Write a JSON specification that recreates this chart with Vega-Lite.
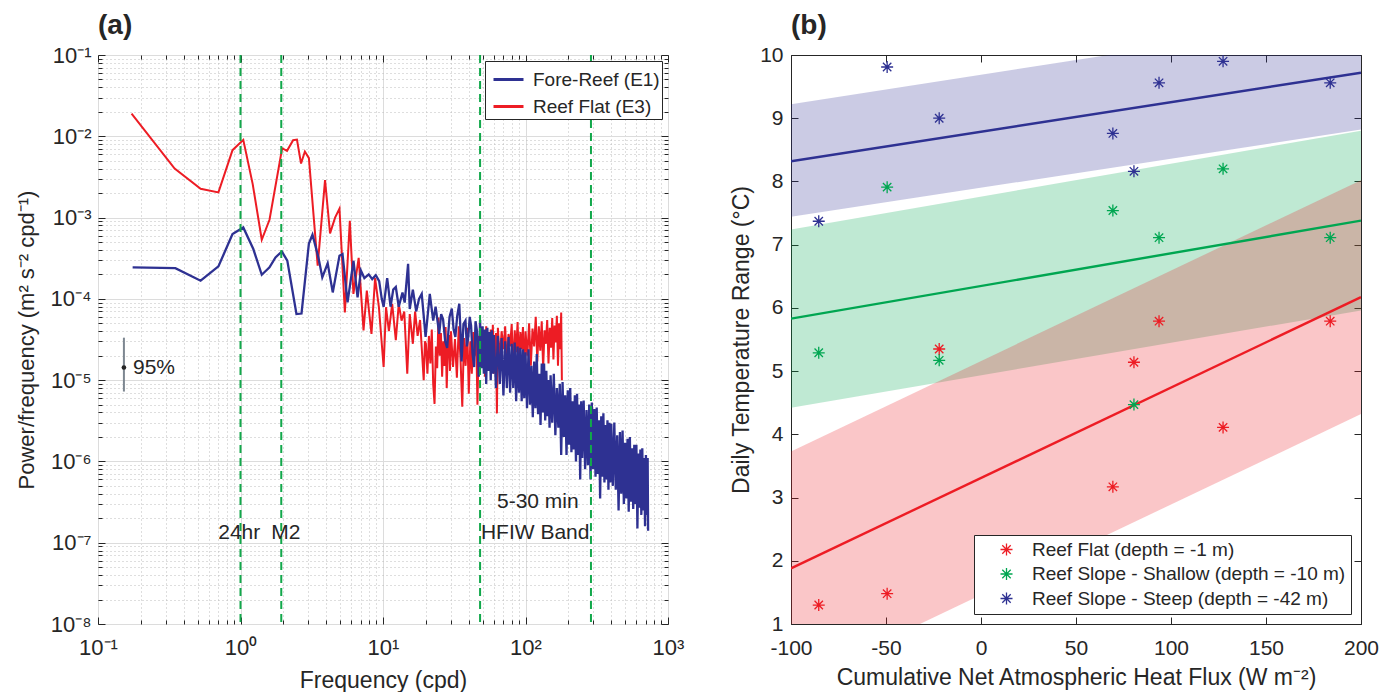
{
  "$schema": "https://vega.github.io/schema/vega-lite/v6.json",
  "background": "white",
  "padding": {"left": 14, "top": 11, "right": 5, "bottom": 0},
  "spacing": 123,
  "bounds": "flush",
  "config": {
    "font": "Liberation Sans",
    "view": {"stroke": "#262626", "strokeWidth": 1},
    "axis": {"domain": false, "labelColor": "#262626", "tickColor": "#262626", "titleColor": "#262626", "titleFontWeight": "normal", "labelFont": "Liberation Sans", "titleFont": "Liberation Sans", "labelOverlap": false, "labelFlush": false},
    "legend": {"labelFont": "Liberation Sans", "labelColor": "#262626"}
  },
  "resolve": {"scale": {"color": "independent"}, "legend": {"color": "independent"}},
  "datasets": {
    "red": [
      {"f":0.172,"p":0.019},{"f":0.345,"p":0.0040},{"f":0.525,"p":0.00226},{"f":0.70,"p":0.00204},{"f":0.879,"p":0.00675},{"f":1.046,"p":0.00903},{"f":1.218,"p":0.00258},{"f":1.41,"p":0.000533},{"f":1.598,"p":0.00094},{"f":1.96,"p":0.00713},{"f":2.12,"p":0.00662},{"f":2.34,"p":0.00895},{"f":2.49,"p":0.00912},{"f":2.66,"p":0.00462},{"f":2.83,"p":0.00649},{"f":3.02,"p":0.00538},{"f":3.48,"p":0.000256},{"f":3.92,"p":0.00289},{"f":4.25,"p":0.00064},{"f":4.61,"p":0.0010},{"f":4.95,"p":0.00129},{"f":5.4,"p":0.000068},{"f":5.85,"p":0.00091},{"f":6.2,"p":0.000115},{"f":6.75,"p":0.00032},{"f":7.3,"p":0.000041},{"f":7.7,"p":0.000126},{"f":8.3,"p":0.000037},{"f":8.8,"p":0.00018},{"f":9.36,"p":0.000079},{"f":10.1,"p":0.0000145},{"f":10.5,"p":0.000079},{"f":11.0,"p":0.00004},{"f":11.6,"p":0.000087},{"f":12.3,"p":0.000031},{"f":12.9,"p":0.000087},{"f":13.5,"p":0.000054},{"f":14.1,"p":0.00007},{"f":14.8,"p":0.000012},{"f":15.4,"p":0.000065},{"f":16.2,"p":0.000028},{"f":16.8,"p":0.00007},{"f":17.5,"p":0.000035},{"f":18.2,"p":0.000055},{"f":19.3,"p":0.00001},{"f":19.7,"p":0.00003},
      {"f":20.0,"p":2.8e-5},{"f":20.5,"p":1.2e-5},{"f":21.0,"p":3.5e-5},{"f":21.5,"p":1.6e-5},{"f":22.0,"p":4.2e-5},{"f":22.5,"p":9e-6},{"f":23.0,"p":5.1e-6},{"f":23.5,"p":2.6e-5},{"f":24.0,"p":1.4e-5},{"f":24.5,"p":5.9e-5},{"f":25.0,"p":2.0e-5},{"f":25.5,"p":3.8e-5},{"f":26.0,"p":1.1e-5},{"f":26.5,"p":3.0e-5},{"f":27.0,"p":1.5e-5},{"f":27.5,"p":4.5e-5},{"f":28.0,"p":8e-6},{"f":28.5,"p":2.5e-5},{"f":29.0,"p":3.6e-5},{"f":29.5,"p":1.3e-5},
      {"f":30,"p":4.0e-5},{"f":31,"p":1.45e-5},{"f":32,"p":3.2e-5},{"f":33,"p":1.07e-5},{"f":34,"p":4.6e-5},{"f":35,"p":1.8e-5},{"f":36,"p":4.7e-6},{"f":37,"p":3.3e-5},{"f":38,"p":1.5e-5},{"f":39,"p":4.4e-5},{"f":40,"p":6.8e-6},{"f":41,"p":3.0e-5},{"f":42,"p":1.2e-5},{"f":43,"p":3.9e-5},{"f":44,"p":2.0e-5},{"f":45,"p":4.3e-5},{"f":46,"p":5e-6},{"f":47,"p":3.5e-5},{"f":48,"p":1.6e-5},{"f":49,"p":4.4e-5},{"f":50,"p":2.2e-5},{"f":51,"p":3.9e-5},{"f":52,"p":1.1e-5},{"f":53,"p":4.6e-5},{"f":54,"p":2.5e-5},{"f":55,"p":3.6e-5},{"f":56,"p":1.4e-5},{"f":57,"p":4.2e-5},{"f":58,"p":2.0e-5},{"f":59,"p":4.8e-5},{"f":60,"p":1.2e-5},
      {"f":62,"p":3.8e-5},{"f":63,"p":3.9e-6},{"f":64,"p":4.4e-5},{"f":66,"p":1.8e-5},{"f":68,"p":4.0e-5},{"f":70,"p":2.4e-5},{"f":72,"p":4.6e-5},{"f":74,"p":1.5e-5},{"f":76,"p":3.7e-5},{"f":78,"p":2.6e-5},{"f":80,"p":4.9e-5},{"f":82,"p":1.3e-5},{"f":84,"p":4.1e-5},{"f":86,"p":2.2e-5},{"f":88,"p":5.2e-5},{"f":90,"p":1.6e-5},{"f":92,"p":3.9e-5},{"f":94,"p":2.4e-5},{"f":96,"p":4.5e-5},{"f":98,"p":1.1e-5},{"f":100,"p":4.0e-5},
      {"f":103,"p":2.0e-5},{"f":106,"p":5.0e-5},{"f":109,"p":1.5e-5},{"f":112,"p":4.3e-5},{"f":115,"p":2.6e-5},{"f":118,"p":6.0e-5},{"f":121,"p":1.7e-5},{"f":124,"p":4.6e-5},{"f":127,"p":2.3e-5},{"f":130,"p":5.3e-5},{"f":133,"p":1.4e-5},{"f":136,"p":4.1e-5},{"f":139,"p":2.8e-5},{"f":142,"p":5.5e-5},{"f":145,"p":1.6e-5},{"f":148,"p":4.4e-5},{"f":151,"p":2.5e-5},{"f":154,"p":5.8e-5},{"f":157,"p":1.8e-5},{"f":160,"p":4.7e-5},{"f":163,"p":2.9e-5},{"f":166,"p":6.2e-5},{"f":169,"p":1.5e-5},{"f":172,"p":5.0e-5},{"f":175,"p":2.4e-5},{"f":178,"p":6.8e-5},{"f":180,"p":1.0e-5}
    ],
    "blue": [
      {"f":0.175,"p":2.44e-4},{"f":0.349,"p":2.39e-4},{"f":0.525,"p":1.67e-4},{"f":0.70,"p":2.51e-4},{"f":0.879,"p":6.27e-4},{"f":1.046,"p":7.57e-4},{"f":1.23,"p":4.1e-4},{"f":1.41,"p":1.98e-4},{"f":1.598,"p":2.44e-4},{"f":1.76,"p":3.23e-4},{"f":1.95,"p":3.83e-4},{"f":2.13,"p":2.95e-4},{"f":2.47,"p":6.5e-5},{"f":2.68,"p":6.6e-5},{"f":3.02,"p":4.8e-4},{"f":3.20,"p":6.15e-4},{"f":3.52,"p":3.24e-4},{"f":3.75,"p":1.84e-4},{"f":4.09,"p":2.74e-4},{"f":4.44,"p":1.2e-4},{"f":4.95,"p":3.4e-4},{"f":5.2,"p":3.56e-4},{"f":5.64,"p":9.06e-5},{"f":6.21,"p":2.94e-4},{"f":6.63,"p":1.04e-4},{"f":7.0,"p":2.22e-4},{"f":7.4,"p":1.8e-4},{"f":7.94,"p":2.0e-4},{"f":8.4,"p":1.75e-4},{"f":8.9,"p":1.95e-4},{"f":9.4,"p":1.65e-4},{"f":9.8,"p":1.0e-4},{"f":10.1,"p":8e-5},{"f":10.7,"p":1.8e-4},{"f":11.3,"p":8e-5},{"f":11.8,"p":1.3e-4},{"f":12.3,"p":1.4e-4},{"f":12.9,"p":8e-5},{"f":13.7,"p":1.2e-4},{"f":14.2,"p":9e-5},{"f":15.0,"p":2.7e-4},{"f":15.4,"p":7.5e-5},{"f":16.2,"p":1.3e-4},{"f":17.1,"p":7e-5},{"f":17.9,"p":1.0e-4},{"f":18.7,"p":1.15e-4},{"f":19.9,"p":3.4e-5},{"f":21.3,"p":1.15e-4},{"f":22.5,"p":5.4e-5},{"f":23.4,"p":8e-5},{"f":24.8,"p":3.7e-5},{"f":25.6,"p":6.5e-5},{"f":26.4,"p":5.6e-5},{"f":27.3,"p":3.0e-5},{"f":28.2,"p":2.5e-5},{"f":29.3,"p":6e-5},{"f":30.4,"p":7.6e-5},{"f":31.3,"p":4.2e-5},{"f":32.2,"p":3.4e-5},{"f":33.2,"p":6.2e-5},{"f":34.3,"p":8.7e-5},{"f":35.0,"p":3.9e-5},{"f":35.6,"p":1.7e-5},{"f":36.7,"p":4.9e-5},{"f":37.9,"p":5.4e-5},{"f":38.8,"p":2.6e-5},{"f":39.7,"p":3.4e-5},{"f":40.6,"p":6.0e-5},{"f":41.5,"p":4.7e-5},{"f":42.5,"p":2.1e-5},{"f":43.6,"p":1.45e-5},{"f":44.6,"p":5.3e-5},{"f":45.6,"p":4.1e-5},
      {"f":47,"p":1.1e-5},{"f":48,"p":5.5e-5},{"f":49,"p":1.4e-5},{"f":50,"p":4.6e-5},{"f":51,"p":1.2e-5},{"f":52,"p":4.2e-5},{"f":53,"p":9e-6},{"f":54,"p":4.4e-5},{"f":55,"p":1.3e-5},{"f":56,"p":3.9e-5},{"f":57,"p":1.0e-5},{"f":58,"p":4.1e-5},{"f":59,"p":1.2e-5},{"f":60,"p":3.6e-5},{"f":62,"p":8e-6},{"f":64,"p":3.5e-5},{"f":66,"p":9e-6},{"f":68,"p":3.3e-5},{"f":70,"p":6.5e-6},{"f":72,"p":3.0e-5},{"f":74,"p":8e-6},{"f":76,"p":3.4e-5},{"f":78,"p":7e-6},{"f":80,"p":2.8e-5},{"f":82,"p":8e-6},{"f":84,"p":2.9e-5},{"f":86,"p":5.5e-6},{"f":88,"p":2.6e-5},{"f":90,"p":7e-6},{"f":92,"p":2.5e-5},{"f":94,"p":5.5e-6},{"f":96,"p":2.4e-5},{"f":98,"p":6e-6},{"f":100,"p":2.2e-5},
      {"f":102.5,"p":4.5e-6},{"f":105,"p":2.4e-5},{"f":107.5,"p":5e-6},{"f":110,"p":1.5e-5},{"f":112.5,"p":3.5e-6},{"f":115,"p":1.7e-5},{"f":117.5,"p":4.5e-6},{"f":120,"p":2.1e-5},{"f":122.5,"p":3.8e-6},{"f":125,"p":1.2e-5},{"f":127.5,"p":2.8e-6},{"f":130,"p":1.6e-5},{"f":132.5,"p":4e-6},{"f":135,"p":1.6e-5},{"f":137.5,"p":3.2e-6},{"f":140,"p":1.3e-5},{"f":142.5,"p":3.6e-6},{"f":145,"p":1.0e-5},{"f":147.5,"p":2.6e-6},{"f":150,"p":1.15e-5},
      {"f":154,"p":3e-6},{"f":158,"p":1.2e-5},{"f":162,"p":2.1e-6},{"f":166,"p":8e-6},{"f":170,"p":2.6e-6},{"f":174,"p":9e-6},{"f":178,"p":1.2e-6},{"f":182,"p":9.5e-6},{"f":186,"p":2.0e-6},{"f":190,"p":6.5e-6},{"f":194,"p":1.2e-6},{"f":198,"p":7.5e-6},{"f":202,"p":1.6e-6},{"f":206,"p":8e-6},{"f":210,"p":1.3e-6},{"f":214,"p":5.5e-6},{"f":218,"p":1.4e-6},{"f":222,"p":6.5e-6},{"f":226,"p":1.0e-6},{"f":230,"p":6.8e-6},{"f":234,"p":1.2e-6},{"f":238,"p":5.0e-6},{"f":242,"p":6e-7},{"f":246,"p":5.5e-6},{"f":250,"p":1.1e-6},
      {"f":256,"p":5.6e-6},{"f":262,"p":8e-7},{"f":268,"p":4.3e-6},{"f":274,"p":9e-7},{"f":280,"p":5.0e-6},{"f":286,"p":6e-7},{"f":292,"p":5.3e-6},{"f":298,"p":8e-7},{"f":304,"p":4.4e-6},{"f":310,"p":6.5e-7},{"f":316,"p":4.6e-6},{"f":322,"p":7e-7},{"f":328,"p":3.2e-6},{"f":334,"p":3.5e-7},{"f":340,"p":3.6e-6},{"f":346,"p":6.5e-7},{"f":352,"p":3.9e-6},{"f":358,"p":5.5e-7},{"f":364,"p":2.8e-6},{"f":370,"p":6e-7},{"f":376,"p":3.2e-6},{"f":382,"p":4.5e-7},{"f":388,"p":3.0e-6},{"f":394,"p":5.5e-7},{"f":400,"p":2.9e-6},
      {"f":410,"p":5e-7},{"f":420,"p":3.0e-6},{"f":430,"p":4.5e-7},{"f":440,"p":2.1e-6},{"f":450,"p":2.5e-7},{"f":460,"p":2.3e-6},{"f":470,"p":4e-7},{"f":480,"p":2.4e-6},{"f":490,"p":3e-7},{"f":500,"p":1.7e-6},{"f":510,"p":3.5e-7},{"f":520,"p":1.9e-6},{"f":530,"p":2.4e-7},{"f":540,"p":2.0e-6},{"f":550,"p":3.2e-7},{"f":560,"p":1.45e-6},{"f":570,"p":2.6e-7},{"f":580,"p":1.6e-6},{"f":590,"p":3e-7},{"f":600,"p":1.6e-6},{"f":610,"p":1.5e-7},{"f":620,"p":1.25e-6},{"f":630,"p":2.7e-7},{"f":640,"p":1.4e-6},{"f":650,"p":2.2e-7},{"f":660,"p":1.45e-6},{"f":670,"p":2.5e-7},{"f":680,"p":1.1e-6},{"f":690,"p":1.6e-7},{"f":700,"p":1.2e-6},{"f":710,"p":2.2e-7},{"f":720,"p":1.1e-6},{"f":725,"p":1.4e-7}
    ],
    "vlines": [{"f":1},{"f":1.932},{"f":48},{"f":288}],
    "notes": [
      {"f":0.98,"p":1.32e-7,"t":"24hr"},
      {"f":2.08,"p":1.32e-7,"t":"M2"},
      {"f":122,"p":3.16e-7,"t":"5-30 min"},
      {"f":117,"p":1.32e-7,"t":"HFIW Band"}
    ],
    "ci": [{"f":0.152,"lo":7.24e-6,"hi":3.33e-5,"p":1.43e-5}],
    "cilabel": [{"f":0.176,"p":1.43e-5,"t":"95%"}],
    "pts": [
      {"site":"Reef Flat (depth = -1 m)","x":-85.4,"t":1.30},
      {"site":"Reef Flat (depth = -1 m)","x":-49.4,"t":1.48},
      {"site":"Reef Flat (depth = -1 m)","x":-22.0,"t":5.35},
      {"site":"Reef Flat (depth = -1 m)","x":69.4,"t":3.17},
      {"site":"Reef Flat (depth = -1 m)","x":80.5,"t":5.14},
      {"site":"Reef Flat (depth = -1 m)","x":93.7,"t":5.79},
      {"site":"Reef Flat (depth = -1 m)","x":127.4,"t":4.11},
      {"site":"Reef Flat (depth = -1 m)","x":183.8,"t":5.79},
      {"site":"Reef Slope - Shallow (depth = -10 m)","x":-85.4,"t":5.29},
      {"site":"Reef Slope - Shallow (depth = -10 m)","x":-49.4,"t":7.91},
      {"site":"Reef Slope - Shallow (depth = -10 m)","x":-22.0,"t":5.17},
      {"site":"Reef Slope - Shallow (depth = -10 m)","x":69.4,"t":7.54},
      {"site":"Reef Slope - Shallow (depth = -10 m)","x":80.5,"t":4.47},
      {"site":"Reef Slope - Shallow (depth = -10 m)","x":93.7,"t":7.11},
      {"site":"Reef Slope - Shallow (depth = -10 m)","x":127.4,"t":8.20},
      {"site":"Reef Slope - Shallow (depth = -10 m)","x":183.8,"t":7.11},
      {"site":"Reef Slope - Steep (depth = -42 m)","x":-85.4,"t":7.37},
      {"site":"Reef Slope - Steep (depth = -42 m)","x":-49.4,"t":9.81},
      {"site":"Reef Slope - Steep (depth = -42 m)","x":-22.0,"t":9.0},
      {"site":"Reef Slope - Steep (depth = -42 m)","x":69.4,"t":8.76},
      {"site":"Reef Slope - Steep (depth = -42 m)","x":80.5,"t":8.16},
      {"site":"Reef Slope - Steep (depth = -42 m)","x":93.7,"t":9.56},
      {"site":"Reef Slope - Steep (depth = -42 m)","x":127.4,"t":9.90},
      {"site":"Reef Slope - Steep (depth = -42 m)","x":183.8,"t":9.56}
    ],
    "fits": [
      {"site":"Reef Flat (depth = -1 m)","x":-100,"t":1.88},
      {"site":"Reef Flat (depth = -1 m)","x":200,"t":6.17},
      {"site":"Reef Slope - Shallow (depth = -10 m)","x":-100,"t":5.83},
      {"site":"Reef Slope - Shallow (depth = -10 m)","x":200,"t":7.38},
      {"site":"Reef Slope - Steep (depth = -42 m)","x":-100,"t":8.32},
      {"site":"Reef Slope - Steep (depth = -42 m)","x":200,"t":9.72}
    ],
    "bands": [
      {"site":"Reef Slope - Steep (depth = -42 m)","x":-100,"lo":7.44,"hi":9.22},
      {"site":"Reef Slope - Steep (depth = -42 m)","x":200,"lo":8.82,"hi":10.62},
      {"site":"Reef Slope - Shallow (depth = -10 m)","x":-100,"lo":4.42,"hi":7.24},
      {"site":"Reef Slope - Shallow (depth = -10 m)","x":200,"lo":5.96,"hi":8.80},
      {"site":"Reef Flat (depth = -1 m)","x":-100,"lo":0.03,"hi":3.73},
      {"site":"Reef Flat (depth = -1 m)","x":200,"lo":4.32,"hi":8.02}
    ]
  },
  "hconcat": [
    {
      "width": 570,
      "height": 569,
      "title": {"text": "(a)", "anchor": "start", "frame": "group", "fontSize": 28, "fontWeight": "bold", "color": "#262626", "offset": 4},
      "layer": [
        {
          "data": {"name": "red"},
          "mark": {"type": "line", "strokeWidth": 2, "clip": true},
          "encoding": {
            "x": {"field": "f", "type": "quantitative", "scale": {"type": "log", "domain": [0.1, 1000], "nice": false},
              "axis": {"orient": "bottom", "title": "Frequency (cpd)", "titleFontSize": 23, "titlePadding": 8,
                "values": [0.1,0.2,0.3,0.4,0.5,0.6,0.7,0.8,0.9,1,2,3,4,5,6,7,8,9,10,20,30,40,50,60,70,80,90,100,200,300,400,500,600,700,800,900,1000],
                "labelExpr": "abs(log(datum.value)/LN10 - round(log(datum.value)/LN10)) > 0.01 ? '' : '10' + (round(log(datum.value)/LN10) < 0 ? '⁻' : '') + ['⁰','¹','²','³','⁴','⁵','⁶','⁷','⁸','⁹'][abs(round(log(datum.value)/LN10))]",
                "labelFontSize": 22, "labelPadding": 20,
                "tickSize": {"condition": {"test": "abs(log(datum.value)/LN10 - round(log(datum.value)/LN10)) < 0.01", "value": -7}, "value": -4},
                "grid": true,
                "gridColor": {"condition": {"test": "abs(log(datum.value)/LN10 - round(log(datum.value)/LN10)) < 0.01", "value": "#dcdcdc"}, "value": "#bdbdbd"},
                "gridDash": {"condition": {"test": "abs(log(datum.value)/LN10 - round(log(datum.value)/LN10)) < 0.01", "value": []}, "value": [1, 3]}
              }},
            "y": {"field": "p", "type": "quantitative", "scale": {"type": "log", "domain": [1e-8, 0.1], "nice": false},
              "axis": {"orient": "left", "title": "Power/frequency (m² s⁻² cpd⁻¹)", "titleFontSize": 22, "titlePadding": 12,
                "values": [1e-8,2e-8,3e-8,4e-8,5e-8,6e-8,7e-8,8e-8,9e-8,1e-7,2e-7,3e-7,4e-7,5e-7,6e-7,7e-7,8e-7,9e-7,1e-6,2e-6,3e-6,4e-6,5e-6,6e-6,7e-6,8e-6,9e-6,1e-5,2e-5,3e-5,4e-5,5e-5,6e-5,7e-5,8e-5,9e-5,1e-4,2e-4,3e-4,4e-4,5e-4,6e-4,7e-4,8e-4,9e-4,0.001,0.002,0.003,0.004,0.005,0.006,0.007,0.008,0.009,0.01,0.02,0.03,0.04,0.05,0.06,0.07,0.08,0.09,0.1],
                "labelExpr": "abs(log(datum.value)/LN10 - round(log(datum.value)/LN10)) > 0.01 ? '' : '10' + (round(log(datum.value)/LN10) < 0 ? '⁻' : '') + ['⁰','¹','²','³','⁴','⁵','⁶','⁷','⁸','⁹'][abs(round(log(datum.value)/LN10))]",
                "labelFontSize": 22, "labelPadding": 14,
                "tickSize": {"condition": {"test": "abs(log(datum.value)/LN10 - round(log(datum.value)/LN10)) < 0.01", "value": -7}, "value": -4},
                "grid": true,
                "gridColor": {"condition": {"test": "abs(log(datum.value)/LN10 - round(log(datum.value)/LN10)) < 0.01", "value": "#dcdcdc"}, "value": "#bdbdbd"},
                "gridDash": {"condition": {"test": "abs(log(datum.value)/LN10 - round(log(datum.value)/LN10)) < 0.01", "value": []}, "value": [1, 3]}
              }},
            "color": {"datum": "Reef Flat (E3)", "type": "nominal",
              "scale": {"domain": ["Fore-Reef (E1)", "Reef Flat (E3)"], "range": ["#2e3192", "#ed1c24"]},
              "legend": {"orient": "top-right", "offset": 6, "title": null, "labelFontSize": 19, "symbolType": "stroke", "symbolSize": 900, "symbolStrokeWidth": 3, "strokeColor": "#262626", "fillColor": "white", "padding": 2, "rowPadding": -3.5, "labelOffset": 8, "symbolOffset": 5, "labelLimit": 0}}
          }
        },
        {
          "data": {"name": "blue"},
          "mark": {"type": "line", "strokeWidth": 2.3, "clip": true},
          "encoding": {
            "x": {"field": "f", "type": "quantitative", "axis": null},
            "y": {"field": "p", "type": "quantitative", "axis": null},
            "color": {"datum": "Fore-Reef (E1)", "type": "nominal"}
          }
        },
        {
          "data": {"name": "vlines"},
          "mark": {"type": "rule", "color": "#12a84b", "strokeWidth": 2, "strokeDash": [8, 5]},
          "encoding": {
            "x": {"field": "f", "type": "quantitative", "axis": null}
          }
        },
        {
          "data": {"name": "notes"},
          "mark": {"type": "text", "fontSize": 21, "color": "#262626", "align": "center", "baseline": "middle"},
          "encoding": {
            "x": {"field": "f", "type": "quantitative",
              "axis": {"orient": "top", "title": null, "labels": false, "grid": false,
                "values": [0.1,0.2,0.3,0.4,0.5,0.6,0.7,0.8,0.9,1,2,3,4,5,6,7,8,9,10,20,30,40,50,60,70,80,90,100,200,300,400,500,600,700,800,900,1000],
                "tickSize": {"condition": {"test": "abs(log(datum.value)/LN10 - round(log(datum.value)/LN10)) < 0.01", "value": -7}, "value": -4}}},
            "y": {"field": "p", "type": "quantitative",
              "axis": {"orient": "right", "title": null, "labels": false, "grid": false,
                "values": [1e-8,2e-8,3e-8,4e-8,5e-8,6e-8,7e-8,8e-8,9e-8,1e-7,2e-7,3e-7,4e-7,5e-7,6e-7,7e-7,8e-7,9e-7,1e-6,2e-6,3e-6,4e-6,5e-6,6e-6,7e-6,8e-6,9e-6,1e-5,2e-5,3e-5,4e-5,5e-5,6e-5,7e-5,8e-5,9e-5,1e-4,2e-4,3e-4,4e-4,5e-4,6e-4,7e-4,8e-4,9e-4,0.001,0.002,0.003,0.004,0.005,0.006,0.007,0.008,0.009,0.01,0.02,0.03,0.04,0.05,0.06,0.07,0.08,0.09,0.1],
                "tickSize": {"condition": {"test": "abs(log(datum.value)/LN10 - round(log(datum.value)/LN10)) < 0.01", "value": -7}, "value": -4}}},
            "text": {"field": "t"}
          }
        },
        {
          "data": {"name": "ci"},
          "mark": {"type": "rule", "color": "#7d8791", "strokeWidth": 2},
          "encoding": {
            "x": {"field": "f", "type": "quantitative", "axis": null},
            "y": {"field": "lo", "type": "quantitative", "axis": null},
            "y2": {"field": "hi"}
          }
        },
        {
          "data": {"name": "ci"},
          "mark": {"type": "point", "filled": true, "color": "#262626", "size": 22, "opacity": 1},
          "encoding": {
            "x": {"field": "f", "type": "quantitative", "axis": null},
            "y": {"field": "p", "type": "quantitative", "axis": null}
          }
        },
        {
          "data": {"name": "cilabel"},
          "mark": {"type": "text", "fontSize": 21, "color": "#262626", "align": "left", "baseline": "middle"},
          "encoding": {
            "x": {"field": "f", "type": "quantitative", "axis": null},
            "y": {"field": "p", "type": "quantitative", "axis": null},
            "text": {"field": "t"}
          }
        }
      ],
      "resolve": {"axis": {"x": "independent", "y": "independent"}}
    },
    {
      "width": 570,
      "height": 569,
      "title": {"text": "(b)", "anchor": "start", "frame": "group", "fontSize": 28, "fontWeight": "bold", "color": "#262626", "offset": 4},
      "layer": [
        {
          "data": {"name": "bands"},
          "mark": {"type": "area", "opacity": 0.25, "clip": true},
          "encoding": {
            "x": {"field": "x", "type": "quantitative", "scale": {"domain": [-100, 200], "nice": false}, "axis": null},
            "y": {"field": "lo", "type": "quantitative", "scale": {"domain": [1, 10], "nice": false}, "axis": null},
            "y2": {"field": "hi"},
            "fill": {"field": "site", "type": "nominal",
              "scale": {"domain": ["Reef Flat (depth = -1 m)", "Reef Slope - Shallow (depth = -10 m)", "Reef Slope - Steep (depth = -42 m)"], "range": ["#ed1c24", "#00a651", "#2e3192"]},
              "legend": null}
          }
        },
        {
          "data": {"name": "fits"},
          "mark": {"type": "line", "strokeWidth": 2.4, "clip": true},
          "encoding": {
            "x": {"field": "x", "type": "quantitative",
              "axis": {"orient": "top", "title": null, "labels": false, "grid": false, "values": [-100,-50,0,50,100,150,200], "tickSize": -7}},
            "y": {"field": "t", "type": "quantitative",
              "axis": {"orient": "right", "title": null, "labels": false, "grid": false, "values": [1,2,3,4,5,6,7,8,9,10], "tickSize": -7}},
            "stroke": {"field": "site", "type": "nominal",
              "scale": {"domain": ["Reef Flat (depth = -1 m)", "Reef Slope - Shallow (depth = -10 m)", "Reef Slope - Steep (depth = -42 m)"], "range": ["#ed1c24", "#00a651", "#2e3192"]},
              "legend": null}
          }
        },
        {
          "data": {"name": "pts"},
          "mark": {"type": "point", "shape": "M-1,0L1,0M0,-1L0,1M-0.7,-0.7L0.7,0.7M-0.7,0.7L0.7,-0.7", "filled": false, "size": 144, "strokeWidth": 1.3, "opacity": 1},
          "encoding": {
            "x": {"field": "x", "type": "quantitative",
              "axis": {"orient": "bottom", "title": "Cumulative Net Atmospheric Heat Flux (W m⁻²)", "titleFontSize": 23, "titlePadding": 8, "values": [-100,-50,0,50,100,150,200], "labelExpr": "datum.value + ''", "tickSize": -7, "labelFontSize": 21, "labelPadding": 20, "grid": false}},
            "y": {"field": "t", "type": "quantitative",
              "axis": {"orient": "left", "title": "Daily Temperature Range (°C)", "titleFontSize": 23, "titlePadding": 6, "values": [1,2,3,4,5,6,7,8,9,10], "tickSize": -7, "labelFontSize": 21, "labelPadding": 15, "grid": false}},
            "color": {"field": "site", "type": "nominal",
              "scale": {"domain": ["Reef Flat (depth = -1 m)", "Reef Slope - Shallow (depth = -10 m)", "Reef Slope - Steep (depth = -42 m)"], "range": ["#ed1c24", "#00a651", "#2e3192"]},
              "legend": {"orient": "bottom-right", "offset": 10, "title": null, "labelFontSize": 19, "symbolType": "M-1,0L1,0M0,-1L0,1M-0.7,-0.7L0.7,0.7M-0.7,0.7L0.7,-0.7", "symbolSize": 144, "symbolStrokeWidth": 1.3, "symbolOpacity": 1, "strokeColor": "#262626", "fillColor": "white", "padding": 5, "rowPadding": 4.5, "labelOffset": 16, "symbolOffset": 18, "labelLimit": 0}}
          }
        }
      ],
      "resolve": {"axis": {"x": "independent", "y": "independent"}}
    }
  ]
}
